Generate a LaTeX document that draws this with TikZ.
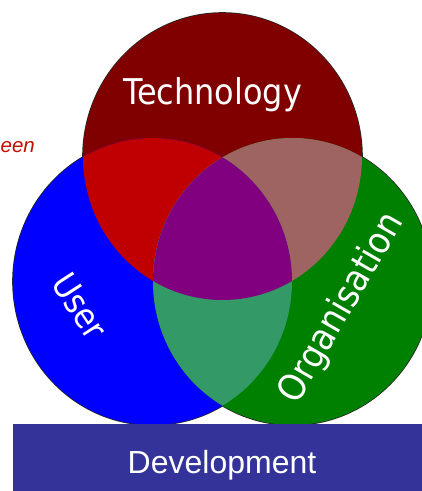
\documentclass[tikz,border=0pt]{standalone}
\usepackage{fontspec}
\newfontfamily\labfont[FakeStretch=0.9]{DejaVu Sans}
\newfontfamily\barfont{Liberation Sans}
\definecolor{techc}{RGB}{128,0,0}
\definecolor{userc}{RGB}{0,0,255}
\definecolor{orgc}{RGB}{0,128,0}
\definecolor{tuc}{RGB}{192,0,0}
\definecolor{toc}{RGB}{158,100,98}
\definecolor{uoc}{RGB}{51,153,102}
\definecolor{allc}{RGB}{128,0,128}
\definecolor{barc}{RGB}{51,51,153}
\definecolor{eenc}{RGB}{192,16,0}
\tikzset{
  rad/.style={x radius=139.5,y radius=143.5},
  lab/.style={text=white,inner sep=0pt,font=\labfont\fontsize{34.5}{40}\selectfont},
}
\begin{document}
\begin{tikzpicture}[x=1pt,y=-1pt]
\useasboundingbox (0,0) rectangle (422,491);
\clip (0,0) rectangle (422,491);
\coordinate (T) at (222.5,156.5);
\coordinate (U) at (152.5,281.5);
\coordinate (O) at (292.5,281.5);
% outer outline
\draw[line width=1.6pt,black!85] (T) ellipse[rad] (U) ellipse[rad] (O) ellipse[rad];
% base fills
\fill[techc] (T) ellipse[rad];
\fill[userc] (U) ellipse[rad];
\fill[orgc] (O) ellipse[rad];
% pairwise intersections
\begin{scope}
  \clip (T) ellipse[rad];
  \fill[tuc] (U) ellipse[rad];
  \fill[toc] (O) ellipse[rad];
\end{scope}
\begin{scope}
  \clip (U) ellipse[rad];
  \fill[uoc] (O) ellipse[rad];
\end{scope}
% triple intersection
\begin{scope}
  \clip (T) ellipse[rad];
  \clip (U) ellipse[rad];
  \fill[allc] (O) ellipse[rad];
\end{scope}
% labels
\node[lab,anchor=base,font=\labfont\fontsize{35.5}{41}\selectfont] (tech) at (212.5,104) {Technology};
\node[lab,rotate=-57] (user) at (80,306) {User};
\node[lab,anchor=base,rotate=60,font=\labfont\fontsize{37}{42}\selectfont] (org) at (350.7,313.4) {Organisation};
% side text
\node[anchor=base west,inner sep=0pt,text=eenc,font=\barfont\itshape\fontsize{20.5}{25}\selectfont] (een) at (0.5,152) {een};
% bottom bar
\fill[barc] (13,424) rectangle (422,491);
\node[anchor=base,inner sep=0pt,text=white,font=\barfont\fontsize{32}{38}\selectfont] (dev) at (222,473) {Development};
\end{tikzpicture}
\end{document}
